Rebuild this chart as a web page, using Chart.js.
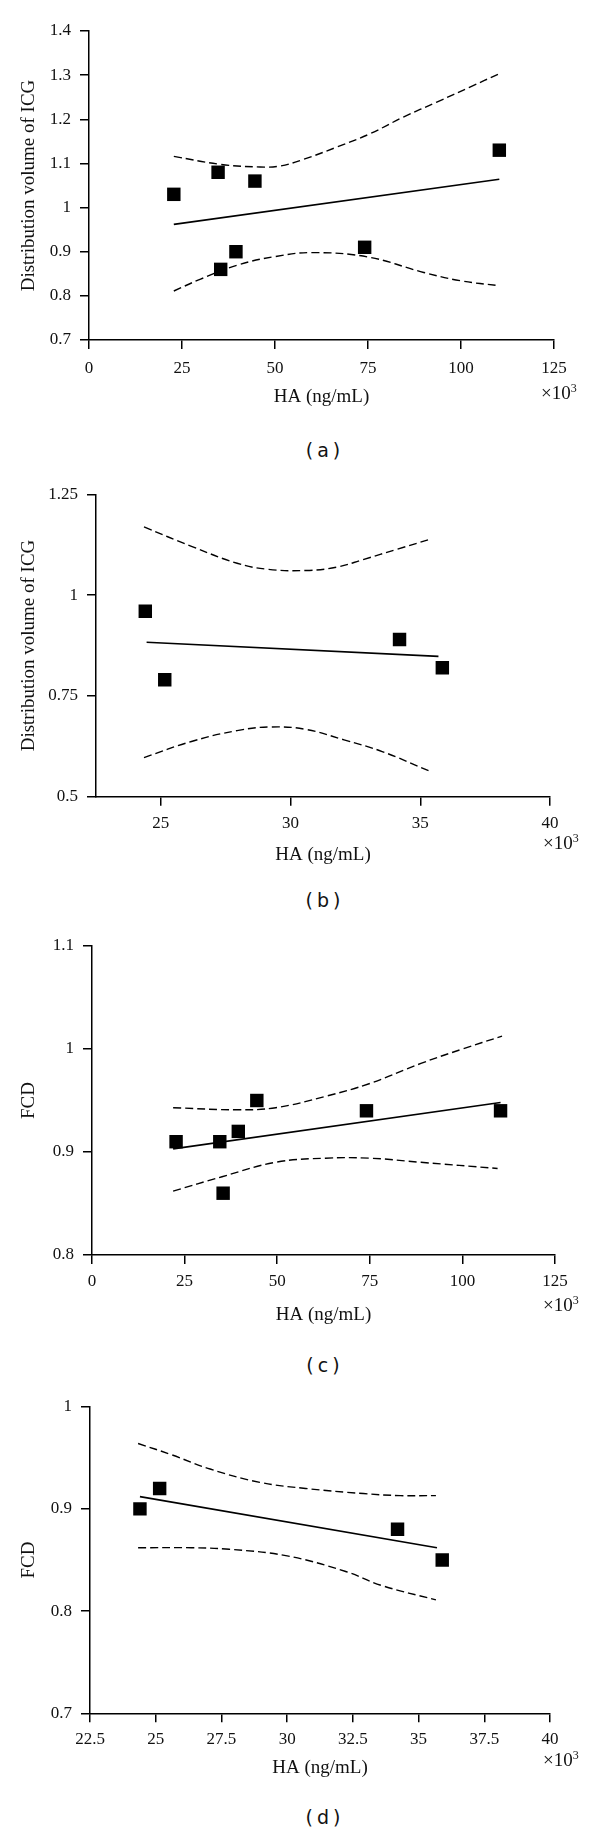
<!DOCTYPE html>
<html>
<head>
<meta charset="utf-8">
<script src="https://cdn.jsdelivr.net/npm/chart.js"></script>
<style>
  body { margin: 0; background: #fff; width: 600px; height: 1832px; position: relative; overflow: hidden; }
  .panel { position: absolute; left: 0; width: 600px; height: 420px; }
  .mult { position: absolute; font: 19px "Liberation Serif", serif; line-height: 20px; color: #111; white-space: nowrap; }
  .mult span { font-size: 12px; position: relative; top: -7px; }
  .cap { position: absolute; left: 273px; width: 100px; text-align: center; font: 19px "DejaVu Sans", sans-serif; word-spacing: -2px; line-height: 20px; color: #111; }
</style>
</head>
<body>
<div class="panel" style="top:0px"><canvas id="chartA" width="600" height="420"></canvas></div>
<div class="mult" style="left:541px; top:383px">×10<span>3</span></div>
<div class="cap" style="top:440px">( a )</div>

<div class="panel" style="top:460px"><canvas id="chartB" width="600" height="420"></canvas></div>
<div class="mult" style="left:543px; top:833px">×10<span>3</span></div>
<div class="cap" style="top:890px">( b )</div>

<div class="panel" style="top:920px"><canvas id="chartC" width="600" height="420"></canvas></div>
<div class="mult" style="left:543px; top:1295px">×10<span>3</span></div>
<div class="cap" style="top:1355px">( c )</div>

<div class="panel" style="top:1380px"><canvas id="chartD" width="600" height="420"></canvas></div>
<div class="mult" style="left:543px; top:1750px">×10<span>3</span></div>
<div class="cap" style="top:1807px">( d )</div>

<script>
// ---- panel (a): HA vs distribution volume of ICG
const haA = [22.8, 34.7, 44.6, 39.5, 35.4, 74.1, 110.3];
const icgA = [1.03, 1.08, 1.06, 0.90, 0.86, 0.91, 1.13];
const fitXA = [22.8, 110.3];
const fitYA = [0.962, 1.064];
const upperXA = [22.8, 35.2, 46, 51.3, 57.6, 66.6, 75.5, 84.5, 93.5, 102.4, 110.2];
const upperA = [1.116, 1.098, 1.092, 1.094, 1.109, 1.137, 1.167, 1.205, 1.239, 1.273, 1.303];
const lowerXA = [22.8, 30, 40, 50, 60, 75, 90, 100, 110.3];
const lowerA = [0.811, 0.838, 0.870, 0.889, 0.898, 0.888, 0.853, 0.834, 0.823];
const xTicksA = [0, 25, 50, 75, 100, 125];
const yTicksA = [0.7, 0.8, 0.9, 1, 1.1, 1.2, 1.3, 1.4];

// ---- panel (b)
const haB = [24.4, 25.15, 34.2, 35.85];
const icgB = [0.96, 0.79, 0.89, 0.82];
const fitXB = [24.45, 35.7];
const fitYB = [0.883, 0.848];
const upperXB = [24.35, 26.18, 27.94, 29.12, 30.59, 31.76, 32.79, 34.12, 35.41];
const upperB = [1.169, 1.121, 1.079, 1.064, 1.061, 1.069, 1.088, 1.114, 1.139];
const lowerXB = [24.35, 26.18, 27.94, 29.26, 30.59, 32.06, 33.53, 35.41];
const lowerB = [0.597, 0.637, 0.664, 0.673, 0.667, 0.641, 0.612, 0.562];
const xTicksB = [25, 30, 35, 40];
const yTicksB = [0.5, 0.75, 1, 1.25];

// ---- panel (c): HA vs FCD
const haC = [22.7, 34.5, 39.5, 44.5, 35.4, 74.1, 110.3];
const fcdC = [0.91, 0.91, 0.92, 0.95, 0.86, 0.94, 0.94];
const fitXC = [21.9, 110.3];
const fitYC = [0.903, 0.948];
const upperXC = [21.9, 39.3, 49.6, 63, 75, 88.8, 100, 110.7];
const upperC = [0.943, 0.941, 0.943, 0.954, 0.9665, 0.986, 1.0, 1.0125];
const lowerXC = [21.9, 35.1, 49.6, 63, 75, 88.8, 109.5];
const lowerC = [0.862, 0.876, 0.890, 0.894, 0.894, 0.890, 0.884];
const xTicksC = [0, 25, 50, 75, 100, 125];
const yTicksC = [0.8, 0.9, 1, 1.1];

// ---- panel (d)
const haD = [24.4, 25.15, 34.2, 35.9];
const fcdD = [0.90, 0.92, 0.88, 0.85];
const fitXD = [24.4, 35.7];
const fitYD = [0.912, 0.862];
const upperXD = [24.33, 25.6, 27.07, 28.96, 30.7, 32.9, 34.3, 35.66];
const upperD = [0.964, 0.953, 0.939, 0.926, 0.920, 0.915, 0.913, 0.913];
const lowerXD = [24.33, 26.35, 27.8, 30, 32.2, 33.6, 35.66];
const lowerD = [0.862, 0.862, 0.8605, 0.854, 0.839, 0.825, 0.811];
const xTicksD = [22.5, 25, 27.5, 30, 32.5, 35, 37.5, 40];
const yTicksD = [0.7, 0.8, 0.9, 1];

const serif = '"Liberation Serif", "Times New Roman", serif';
const ink = '#111';

function pts(xs, ys) {
    return xs.map((x, i) => ({ x: x, y: ys[i] }));
}

function axisOpts(ticks, fixed, horizontal, title, titlePad, tickPad) {
    return {
        type: 'linear',
        min: fixed.min,
        max: ticks[ticks.length - 1],
        afterBuildTicks: (scale) => { scale.ticks = ticks.map(v => ({ value: v })); },
        afterFit: (scale) => {
            if (horizontal) scale.height = fixed.size;
            else scale.width = fixed.size;
        },
        border: { display: true, color: '#000', width: 1.5 },
        grid: { display: true, drawOnChartArea: false, drawTicks: true, tickLength: 9, color: '#000', lineWidth: 1.5 },
        ticks: {
            color: ink,
            padding: tickPad,
            maxRotation: 0,
            autoSkip: false,
            font: { family: serif, size: 17 },
            callback: (v) => String(v)
        },
        title: {
            display: true,
            text: title,
            color: ink,
            font: { family: serif, size: 19 },
            padding: horizontal ? { top: 0, bottom: titlePad } : { top: titlePad, bottom: 0 }
        }
    };
}

function makePanel(id, p) {
    const lineBase = { showLine: true, pointRadius: 0, borderColor: '#000', fill: false };
    const dashed = { ...lineBase, borderWidth: 1.4, borderDash: [8, 4], tension: 0.4 };
    return new Chart(document.getElementById(id), {
        type: 'scatter',
        data: {
            datasets: [
                { data: pts(p.hx, p.hy), pointStyle: 'rect', pointRadius: 9.5, backgroundColor: '#000', borderWidth: 0 },
                { ...lineBase, data: pts(p.fx, p.fy), borderWidth: 1.6 },
                { ...dashed, data: pts(p.ux, p.uy) },
                { ...dashed, data: pts(p.lx, p.ly) }
            ]
        },
        options: {
            responsive: false,
            animation: false,
            devicePixelRatio: 1,
            layout: { padding: { top: p.padTop, right: p.padRight, left: 0, bottom: 0 } },
            plugins: { legend: { display: false }, tooltip: { enabled: false } },
            scales: {
                x: axisOpts(p.xt, { min: p.xmin, size: p.xh }, true, 'HA (ng/mL)', p.xTitlePad, p.tickPad),
                y: axisOpts(p.yt, { min: p.yt[0], size: p.yw }, false, p.ytitle, 17.6, 9)
            }
        }
    });
}

function drawAll() {
    makePanel('chartA', {
        hx: haA, hy: icgA, fx: fitXA, fy: fitYA, ux: upperXA, uy: upperA, lx: lowerXA, ly: lowerA,
        xt: xTicksA, yt: yTicksA, xmin: 0, ytitle: 'Distribution volume of ICG',
        padTop: 31, padRight: 46, yw: 89, xh: 80, xTitlePad: 11.6, tickPad: 9
    });
    makePanel('chartB', {
        hx: haB, hy: icgB, fx: fitXB, fy: fitYB, ux: upperXB, uy: upperB, lx: lowerXB, ly: lowerB,
        xt: xTicksB, yt: yTicksB, xmin: 22.5, ytitle: 'Distribution volume of ICG',
        padTop: 34.3, padRight: 50, yw: 96, xh: 83.3, xTitlePad: 13.6, tickPad: 7.5
    });
    makePanel('chartC', {
        hx: haC, hy: fcdC, fx: fitXC, fy: fitYC, ux: upperXC, uy: upperC, lx: lowerXC, ly: lowerC,
        xt: xTicksC, yt: yTicksC, xmin: 0, ytitle: 'FCD',
        padTop: 26, padRight: 45, yw: 92, xh: 85, xTitlePad: 13.6, tickPad: 7.5
    });
    makePanel('chartD', {
        hx: haD, hy: fcdD, fx: fitXD, fy: fitYD, ux: upperXD, uy: upperD, lx: lowerXD, ly: lowerD,
        xt: xTicksD, yt: yTicksD, xmin: 22.5, ytitle: 'FCD',
        padTop: 26.7, padRight: 50, yw: 90, xh: 86.7, xTitlePad: 20.3, tickPad: 7.5
    });
}

// make sure the serif face is ready before the canvases draw text
Promise.all([
    document.fonts.load('17px "Liberation Serif"'),
    document.fonts.load('19px "Liberation Serif"')
]).then(drawAll, drawAll);
</script>
</body>
</html>
